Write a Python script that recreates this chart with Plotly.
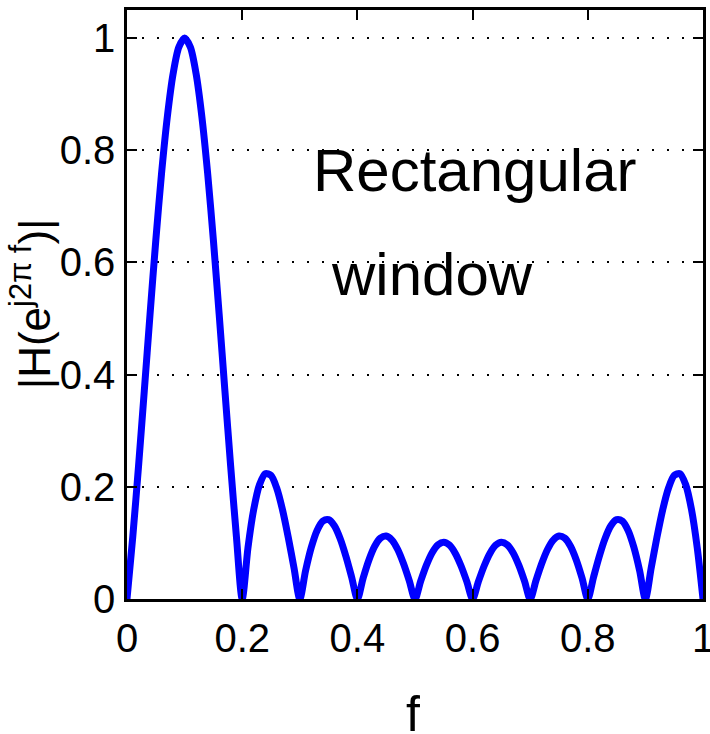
import plotly.graph_objects as go

# Frequency samples (normalized f)
f = [0.00, 0.01, 0.02, 0.03, 0.04, 0.05, 0.06, 0.07, 0.08, 0.09,
     0.10, 0.11, 0.12, 0.13, 0.14, 0.15, 0.16, 0.17, 0.18, 0.19,
     0.20, 0.21, 0.22, 0.23, 0.24, 0.25, 0.26, 0.27, 0.28, 0.29,
     0.30, 0.31, 0.32, 0.33, 0.34, 0.35, 0.36, 0.37, 0.38, 0.39,
     0.40, 0.41, 0.42, 0.43, 0.44, 0.45, 0.46, 0.47, 0.48, 0.49,
     0.50, 0.51, 0.52, 0.53, 0.54, 0.55, 0.56, 0.57, 0.58, 0.59,
     0.60, 0.61, 0.62, 0.63, 0.64, 0.65, 0.66, 0.67, 0.68, 0.69,
     0.70, 0.71, 0.72, 0.73, 0.74, 0.75, 0.76, 0.77, 0.78, 0.79,
     0.80, 0.81, 0.82, 0.83, 0.84, 0.85, 0.86, 0.87, 0.88, 0.89,
     0.90, 0.91, 0.92, 0.93, 0.94, 0.95, 0.96, 0.97, 0.98, 0.99,
     1.00]

# Magnitude |H(e^{j2pi f})|
mag = [0.0, 0.1108, 0.2364, 0.3709, 0.5076, 0.6393, 0.7589, 0.8596, 0.9361, 0.9838,
       1.0, 0.9838, 0.9361, 0.8596, 0.7589, 0.6393, 0.5076, 0.3709, 0.2364, 0.1108,
       0.0, 0.0912, 0.1597, 0.2037, 0.2234, 0.2203, 0.1974, 0.1589, 0.1097, 0.0550,
       0.0, 0.0504, 0.0922, 0.1223, 0.1389, 0.1414, 0.1305, 0.1079, 0.0763, 0.0391,
       0.0, 0.0374, 0.0696, 0.0940, 0.1085, 0.1122, 0.1051, 0.0882, 0.0632, 0.0328,
       0.0, 0.0322, 0.0607, 0.0829, 0.0968, 0.1012, 0.0959, 0.0813, 0.0589, 0.0309,
       0.0, 0.0309, 0.0589, 0.0813, 0.0959, 0.1012, 0.0968, 0.0829, 0.0607, 0.0322,
       0.0, 0.0328, 0.0632, 0.0882, 0.1051, 0.1122, 0.1085, 0.0940, 0.0696, 0.0374,
       0.0, 0.0391, 0.0763, 0.1079, 0.1305, 0.1414, 0.1389, 0.1223, 0.0922, 0.0504,
       0.0, 0.0550, 0.1097, 0.1589, 0.1974, 0.2203, 0.2234, 0.2037, 0.1597, 0.0912,
       0.0]

x_ticks = [0, 0.2, 0.4, 0.6, 0.8, 1]
x_tick_labels = ["0", "0.2", "0.4", "0.6", "0.8", "1"]
y_ticks = [0, 0.2, 0.4, 0.6, 0.8, 1]
y_tick_labels = ["0", "0.2", "0.4", "0.6", "0.8", "1"]

SANS = "Liberation Sans, Arial, sans-serif"

fig = go.Figure()
fig.add_trace(go.Scatter(x=f, y=mag, mode="lines",
                         line=dict(color="#0000ff", width=7, shape="spline", smoothing=0.8),
                         showlegend=False, hoverinfo="skip"))

axis_common = dict(showline=True, linecolor="black", linewidth=2.5, mirror="ticks",
                   ticks="inside", ticklen=10, tickwidth=2, tickcolor="black",
                   zeroline=False, ticklabeloverflow="allow", automargin=False,
                   tickfont=dict(family=SANS, size=40, color="black"))

fig.update_xaxes(range=[0, 1], tickvals=x_ticks, ticktext=x_tick_labels,
                 showgrid=False, ticklabelstandoff=2, **axis_common)
fig.update_yaxes(range=[0, 1.05], tickvals=y_ticks, ticktext=y_tick_labels,
                 showgrid=True, gridcolor="black", gridwidth=2, griddash="2px,13px",
                 ticklabelstandoff=1, **axis_common)

fig.add_annotation(x=0.604, y=0.763, xref="x", yref="y", text="Rectangular",
                   showarrow=False, font=dict(family=SANS, size=60, color="black"),
                   xanchor="center", yanchor="middle")
fig.add_annotation(x=0.530, y=0.578, xref="x", yref="y", text="window",
                   showarrow=False, font=dict(family=SANS, size=60, color="black"),
                   xanchor="center", yanchor="middle")

fig.add_annotation(x=-0.166, y=0.501, xref="paper", yref="paper",
                   text="|H(e<sup>j2π f</sup>)|", textangle=-90, showarrow=False,
                   font=dict(family=SANS, size=44, color="black"),
                   xanchor="center", yanchor="middle")
fig.add_annotation(x=0.4965, y=-0.145, xref="paper", yref="paper", text="f",
                   showarrow=False, font=dict(family=SANS, size=50, color="black"),
                   xanchor="center", yanchor="top")

fig.update_layout(width=710, height=734,
                  margin=dict(l=127, r=7, t=10, b=135, autoexpand=False),
                  plot_bgcolor="white", paper_bgcolor="white")

# remove the default page margin so the figure fills the window exactly
fig.write_html("out.html", config={"displayModeBar": False},
               post_script="document.body.style.margin='0';document.body.style.overflow='hidden';")
